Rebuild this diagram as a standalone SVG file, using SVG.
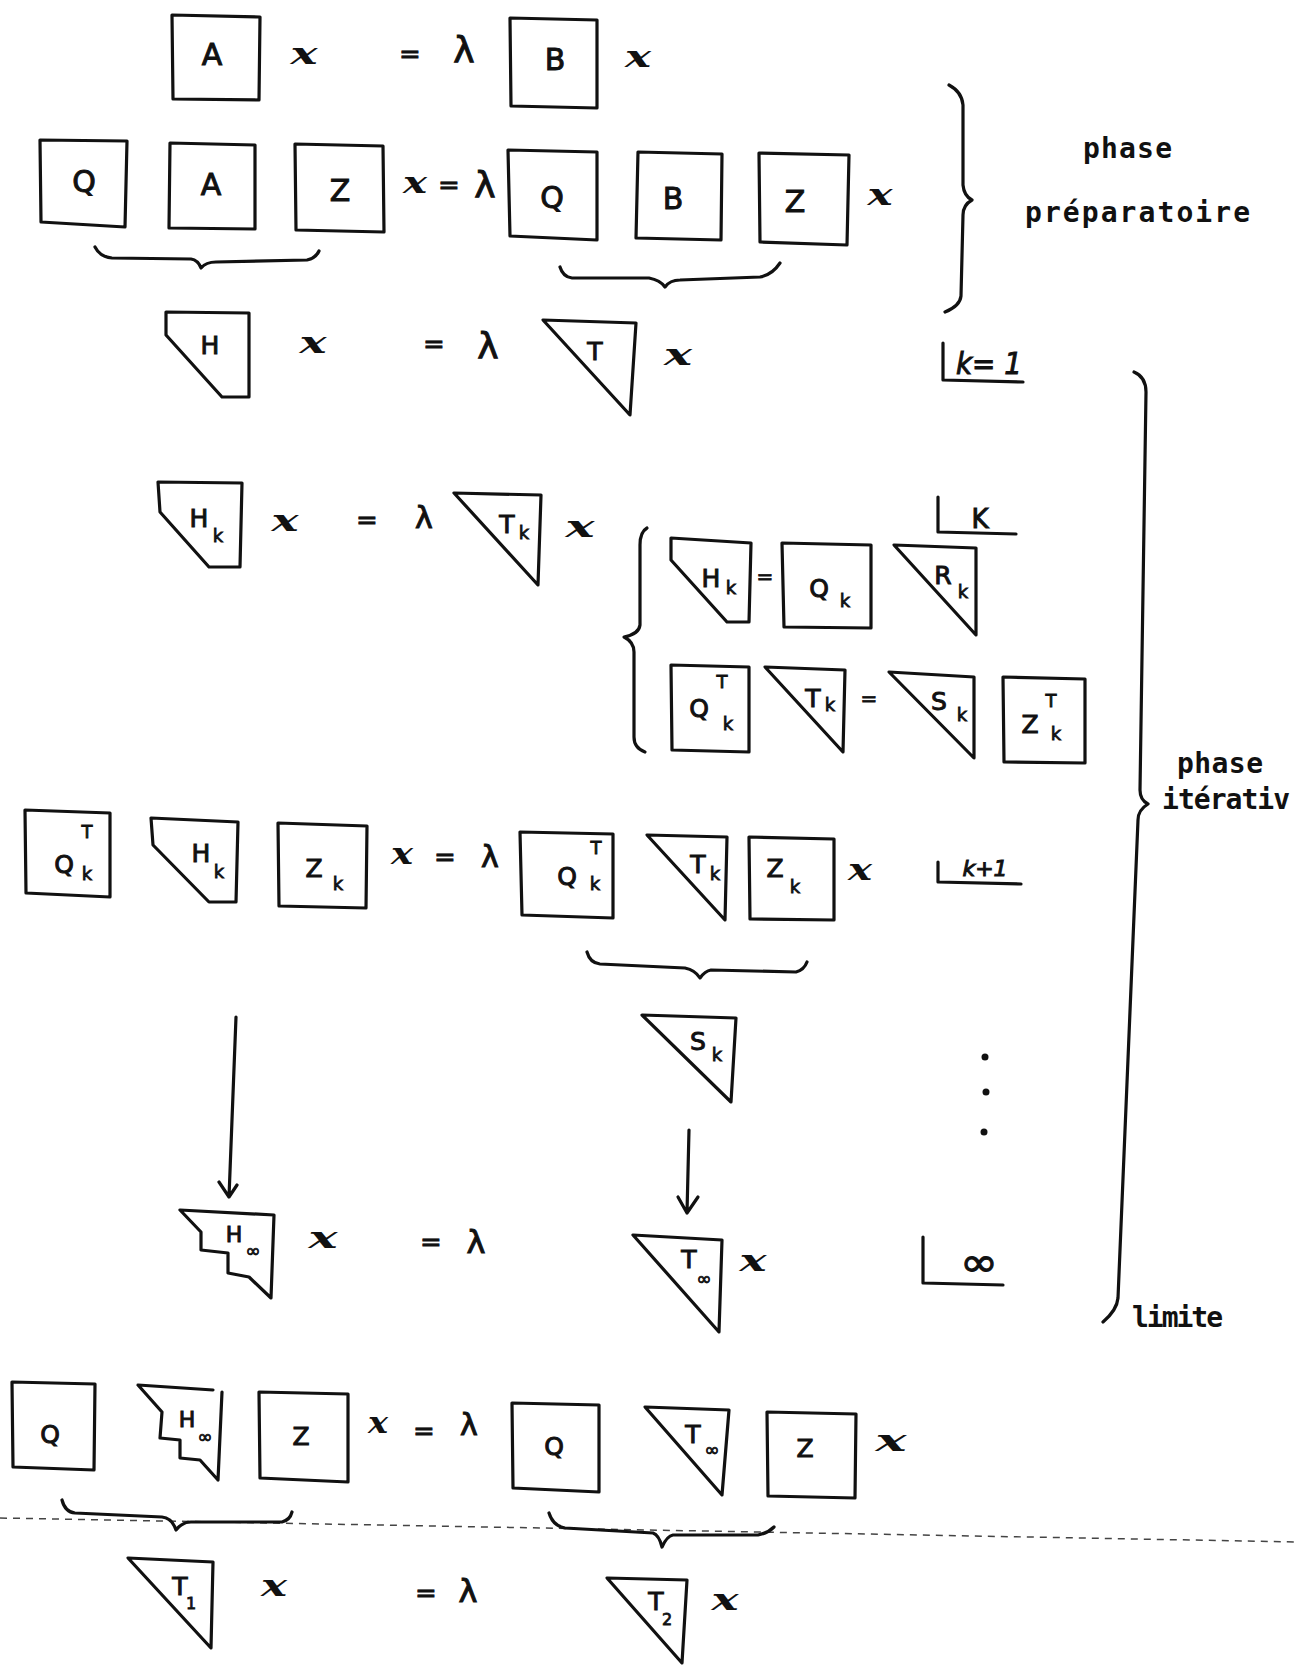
<svg xmlns="http://www.w3.org/2000/svg" width="1298" height="1667" viewBox="0 0 1298 1667">
<style>
.s{fill:none;stroke:#111;stroke-width:3.2;stroke-linejoin:round;stroke-linecap:round}
.lb{font-family:"DejaVu Sans",sans-serif;font-size:30px;fill:#111;stroke:#111;stroke-width:1;text-anchor:middle}
.md{font-size:25px}
.sm{font-size:18px;stroke-width:0.8}
.vx{font-family:"DejaVu Serif",serif;font-style:italic;font-weight:bold;font-size:30px;fill:#111;text-anchor:middle}
.eq{font-family:"DejaVu Sans",sans-serif;font-size:26px;fill:#111;stroke:#111;stroke-width:0.8;text-anchor:middle}
.lam{font-family:"DejaVu Sans",sans-serif;font-size:36px;fill:#111;stroke:#111;stroke-width:1;text-anchor:middle}
.mono{font-family:"DejaVu Sans Mono",monospace;font-weight:bold;font-size:28px;fill:#111}
.dash{fill:none;stroke:#444;stroke-width:1.5;stroke-dasharray:7 6}
.dot{fill:#111}
</style>
<rect width="1298" height="1667" fill="#fff"/>

<!-- Row 1 -->
<g id="r1-A"><polygon class="s" points="172,15 260,17 259,100 173,99"/><text class="lb" x="212" y="65">A</text></g>
<g id="r1-x"><text class="vx" x="304" y="64" textLength="27" lengthAdjust="spacingAndGlyphs">x</text></g>
<g id="r1-eq"><text class="eq" x="410" y="63">=</text><text class="lam" x="464" y="62">λ</text></g>
<g id="r1-B"><polygon class="s" points="510,18 597,20 597,108 511,106"/><text class="lb" x="555" y="70">B</text></g>
<g id="r1-x2"><text class="vx" x="638" y="67" textLength="26" lengthAdjust="spacingAndGlyphs">x</text></g>

<!-- Row 2 -->
<g id="r2-Q"><polygon class="s" points="40,140 127,141 125,227 41,222"/><text class="lb" x="84" y="192">Q</text></g>
<g id="r2-A"><polygon class="s" points="170,143 255,145 255,229 169,228"/><text class="lb" x="211" y="195">A</text></g>
<g id="r2-Z"><polygon class="s" points="295,144 383,146 384,232 296,230"/><text class="lb" x="340" y="201">Z</text></g>
<g id="r2-eq"><text class="vx" x="415" y="193" textLength="24" lengthAdjust="spacingAndGlyphs">x</text><text class="eq" x="449" y="194">=</text><text class="lam" x="485" y="197">λ</text></g>
<g id="r2-Q2"><polygon class="s" points="508,150 597,152 597,240 510,236"/><text class="lb" x="552" y="208">Q</text></g>
<g id="r2-B"><polygon class="s" points="638,152 722,154 721,240 636,238"/><text class="lb" x="673" y="209">B</text></g>
<g id="r2-Z2"><polygon class="s" points="759,153 849,155 847,245 760,242"/><text class="lb" x="795" y="212">Z</text></g>
<g id="r2-x"><text class="vx" x="880" y="205" textLength="25" lengthAdjust="spacingAndGlyphs">x</text></g>

<g id="label-prep">
<text class="mono" x="1083" y="158" textLength="89" lengthAdjust="spacing">phase</text>
<text class="mono" x="1025" y="222" textLength="225" lengthAdjust="spacing">préparatoire</text>
</g>

<!-- Row 3 -->
<g id="r3-H"><polygon class="s" points="166,312 249,313 249,397 222,397 166,335"/><text class="lb md" x="210" y="354">H</text></g>
<g id="r3-x"><text class="vx" x="313" y="353" textLength="27" lengthAdjust="spacingAndGlyphs">x</text></g>
<g id="r3-eq"><text class="eq" x="434" y="353">=</text><text class="lam" x="488" y="358">λ</text></g>
<g id="r3-T"><polygon class="s" points="543,320 636,323 630,415"/><text class="lb md" x="595" y="360">T</text></g>
<g id="r3-x2"><text class="vx" x="678" y="365" textLength="28" lengthAdjust="spacingAndGlyphs">x</text></g>
<g id="step-k1"><path class="s" d="M943,343 L943,380 L1023,382"/><text class="lb" style="font-style:italic;text-anchor:start" x="956" y="374" textLength="66" lengthAdjust="spacingAndGlyphs">k= 1</text></g>

<!-- Row 4 -->
<g id="r4-Hk"><polygon class="s" points="158,482 242,483 240,567 209,567 160,512"/><text class="lb md" x="199" y="527">H</text><text class="lb sm" x="218" y="542">k</text></g>
<g id="r4-x"><text class="vx" x="285" y="531" textLength="27" lengthAdjust="spacingAndGlyphs">x</text></g>
<g id="r4-eq"><text class="eq" x="367" y="529">=</text><text class="lam" x="424" y="528" style="font-size:30px">λ</text></g>
<g id="r4-Tk"><polygon class="s" points="454,493 541,495 538,585"/><text class="lb md" x="507" y="533">T</text><text class="lb sm" x="524" y="539">k</text></g>
<g id="r4-x2"><text class="vx" x="580" y="537" textLength="29" lengthAdjust="spacingAndGlyphs">x</text></g>
<g id="step-k"><path class="s" d="M938,497 L938,532 L1016,534"/><text class="lb" style="font-size:26px" x="980" y="528">K</text></g>

<g id="qr-Hk"><polygon class="s" points="671,538 751,543 749,622 727,622 671,560"/><text class="lb md" x="711" y="587">H</text><text class="lb sm" x="731" y="594">k</text></g>
<g id="qr-eq"><text class="eq" x="765" y="583" style="font-size:20px">=</text></g>
<g id="qr-Qk"><polygon class="s" points="782,543 871,545 871,628 784,627"/><text class="lb md" x="819" y="597">Q</text><text class="lb sm" x="845" y="607">k</text></g>
<g id="qr-Rk"><polygon class="s" points="894,545 976,548 976,635"/><text class="lb md" x="943" y="584">R</text><text class="lb sm" x="963" y="598">k</text></g>

<g id="qz-QkT"><polygon class="s" points="671,665 749,667 749,752 672,750"/><text class="lb md" x="699" y="717">Q</text><text class="lb sm" x="722" y="688">T</text><text class="lb sm" x="728" y="730">k</text></g>
<g id="qz-Tk"><polygon class="s" points="765,667 845,670 843,752"/><text class="lb md" x="813" y="707">T</text><text class="lb sm" x="830" y="711">k</text></g>
<g id="qz-eq"><text class="eq" x="869" y="705" style="font-size:20px">=</text></g>
<g id="qz-Sk"><polygon class="s" points="889,672 974,677 974,758"/><text class="lb md" x="939" y="710">S</text><text class="lb sm" x="962" y="721">k</text></g>
<g id="qz-ZkT"><polygon class="s" points="1003,677 1085,679 1085,763 1004,762"/><text class="lb md" x="1030" y="733">Z</text><text class="lb sm" x="1051" y="707">T</text><text class="lb sm" x="1056" y="740">k</text></g>

<g id="label-iter">
<text class="mono" x="1177" y="773" textLength="86" lengthAdjust="spacing">phase</text>
<text class="mono" x="1162" y="809" textLength="128" lengthAdjust="spacing">itérativ</text>
<text class="mono" x="1132" y="1327" textLength="91" lengthAdjust="spacing">limite</text>
</g>

<!-- Row 5 -->
<g id="r5-QkT"><polygon class="s" points="25,810 110,813 110,897 26,893"/><text class="lb md" x="64" y="873">Q</text><text class="lb sm" x="87" y="838">T</text><text class="lb sm" x="87" y="880">k</text></g>
<g id="r5-Hk"><polygon class="s" points="151,818 238,822 236,902 209,902 153,845"/><text class="lb md" x="201" y="862">H</text><text class="lb sm" x="219" y="878">k</text></g>
<g id="r5-Zk"><polygon class="s" points="278,823 367,826 366,908 279,906"/><text class="lb md" x="314" y="877">Z</text><text class="lb sm" x="338" y="890">k</text></g>
<g id="r5-eq"><text class="vx" x="402" y="864" textLength="22" lengthAdjust="spacingAndGlyphs">x</text><text class="eq" x="445" y="866">=</text><text class="lam" x="490" y="867" style="font-size:30px">λ</text></g>
<g id="r5-QkT2"><polygon class="s" points="520,832 613,834 613,918 522,915"/><text class="lb md" x="567" y="885">Q</text><text class="lb sm" x="596" y="854">T</text><text class="lb sm" x="595" y="890">k</text></g>
<g id="r5-Tk"><polygon class="s" points="647,835 727,837 725,920"/><text class="lb md" x="698" y="873">T</text><text class="lb sm" x="715" y="880">k</text></g>
<g id="r5-Zk2"><polygon class="s" points="749,837 834,839 834,920 750,919"/><text class="lb md" x="775" y="877">Z</text><text class="lb sm" x="795" y="893">k</text></g>
<g id="r5-x"><text class="vx" x="860" y="880" textLength="24" lengthAdjust="spacingAndGlyphs">x</text></g>
<g id="step-k1p"><path class="s" d="M938,862 L938,882 L1021,884"/><text class="lb" style="font-size:22px;font-style:italic" x="985" y="876">k+1</text></g>

<!-- Row 6 -->
<g id="r6-Sk"><polygon class="s" points="642,1015 736,1018 731,1102"/><text class="lb md" x="698" y="1050">S</text><text class="lb sm" x="717" y="1061">k</text></g>
<g id="dots"><circle class="dot" cx="985" cy="1057" r="3.5"/><circle class="dot" cx="986" cy="1092" r="3.5"/><circle class="dot" cx="984" cy="1132" r="3.5"/></g>
<g id="r6-Hinf"><polygon class="s" points="180,1210 274,1215 271,1298 249,1277 228,1273 228,1253 201,1250 201,1232"/><text class="lb" style="font-size:22px" x="234" y="1242">H</text><text class="lb sm" x="253" y="1257">∞</text></g>
<g id="r6-x"><text class="vx" x="323" y="1248" textLength="29" lengthAdjust="spacingAndGlyphs">x</text></g>
<g id="r6-eq"><text class="eq" x="431" y="1251">=</text><text class="lam" x="476" y="1253" style="font-size:32px">λ</text></g>
<g id="r6-Tinf"><polygon class="s" points="633,1235 722,1240 719,1332"/><text class="lb md" x="689" y="1268">T</text><text class="lb sm" x="704" y="1285">∞</text></g>
<g id="r6-x2"><text class="vx" x="753" y="1271" textLength="27" lengthAdjust="spacingAndGlyphs">x</text></g>
<g id="step-inf"><path class="s" d="M923,1237 L923,1283 L1003,1285"/><text class="lb" style="font-size:40px" x="979" y="1276" textLength="38" lengthAdjust="spacingAndGlyphs">∞</text></g>

<!-- Row 7 -->
<g id="r7-Q"><polygon class="s" points="12,1382 95,1384 94,1470 13,1467"/><text class="lb md" x="50" y="1443">Q</text></g>
<g id="r7-Hinf"><path class="s" d="M213,1390 L138,1385 L162,1412 L160,1438 L180,1440 L180,1458 L200,1460 L218,1480 M222,1392 L218,1480"/><text class="lb" style="font-size:22px" x="187" y="1427">H</text><text class="lb sm" x="205" y="1443">∞</text></g>
<g id="r7-Z"><polygon class="s" points="259,1392 348,1394 348,1482 260,1478"/><text class="lb md" x="301" y="1445">Z</text></g>
<g id="r7-eq"><text class="vx" x="378" y="1433" textLength="20" lengthAdjust="spacingAndGlyphs">x</text><text class="eq" x="424" y="1440">=</text><text class="lam" x="469" y="1435" style="font-size:30px">λ</text></g>
<g id="r7-Q2"><polygon class="s" points="512,1403 599,1405 599,1492 513,1488"/><text class="lb md" x="554" y="1455">Q</text></g>
<g id="r7-Tinf"><polygon class="s" points="645,1407 729,1410 722,1495"/><text class="lb md" x="693" y="1443">T</text><text class="lb sm" x="712" y="1456">∞</text></g>
<g id="r7-Z2"><polygon class="s" points="767,1412 856,1414 855,1498 768,1496"/><text class="lb md" x="805" y="1457">Z</text></g>
<g id="r7-x"><text class="vx" x="891" y="1451" textLength="31" lengthAdjust="spacingAndGlyphs">x</text></g>

<!-- Row 8 -->
<g id="r8-T1"><polygon class="s" points="128,1558 213,1562 211,1648"/><text class="lb md" x="180" y="1595">T</text><text class="lb" style="font-size:16px;stroke-width:0.8" x="191" y="1609">1</text></g>
<g id="r8-x"><text class="vx" x="274" y="1596" textLength="26" lengthAdjust="spacingAndGlyphs">x</text></g>
<g id="r8-eq"><text class="eq" x="426" y="1602">=</text><text class="lam" x="468" y="1602" style="font-size:32px">λ</text></g>
<g id="r8-T2"><polygon class="s" points="607,1578 687,1580 682,1663"/><text class="lb md" x="656" y="1610">T</text><text class="lb" style="font-size:16px;stroke-width:0.8" x="667" y="1625">2</text></g>
<g id="r8-x2"><text class="vx" x="725" y="1610" textLength="27" lengthAdjust="spacingAndGlyphs">x</text></g>

<!-- Connectors: braces, arrows, separator -->
<g id="connectors">
<path class="s" d="M949,85 Q962,92 963,105 L963,185 Q964,196 972,200 Q963,205 963,215 L961,296 Q960,306 945,312"/>
<path class="s" d="M95,247 Q100,257 112,258 L191,259 Q198,260 201,268 Q206,262 216,262 L307,260 Q316,258 319,251"/>
<path class="s" d="M560,267 Q563,277 572,278 L649,278 Q660,280 665,287 Q670,280 680,280 L760,277 Q772,275 780,263"/>
<path class="s" d="M1134,372 Q1146,377 1146,392 L1140,790 Q1140,800 1148,804 Q1138,810 1138,820 L1118,1298 Q1117,1310 1103,1322"/>
<path class="s" d="M647,528 Q640,532 640,545 L640,625 Q639,634 624,637 Q634,642 634,652 L634,737 Q634,748 645,752"/>
<path class="s" d="M587,952 Q590,963 600,964 L685,968 Q695,970 700,978 Q705,971 711,970 L796,972 Q804,970 807,962"/>
<path class="s" d="M236,1017 L229,1197 M219,1182 L229,1197 L237,1185"/>
<path class="s" d="M689,1130 L687,1213 M678,1197 L687,1213 L698,1197"/>
<path class="dash" d="M0,1518 L1298,1542"/>
<path class="s" d="M62,1500 Q65,1512 75,1513 L162,1517 Q172,1518 176,1530 Q182,1522 191,1522 L282,1522 Q290,1520 292,1512"/>
<path class="s" d="M549,1513 Q553,1526 565,1528 L653,1533 Q659,1535 662,1547 Q667,1536 673,1535 L758,1535 Q768,1533 774,1527"/>
</g>
</svg>
